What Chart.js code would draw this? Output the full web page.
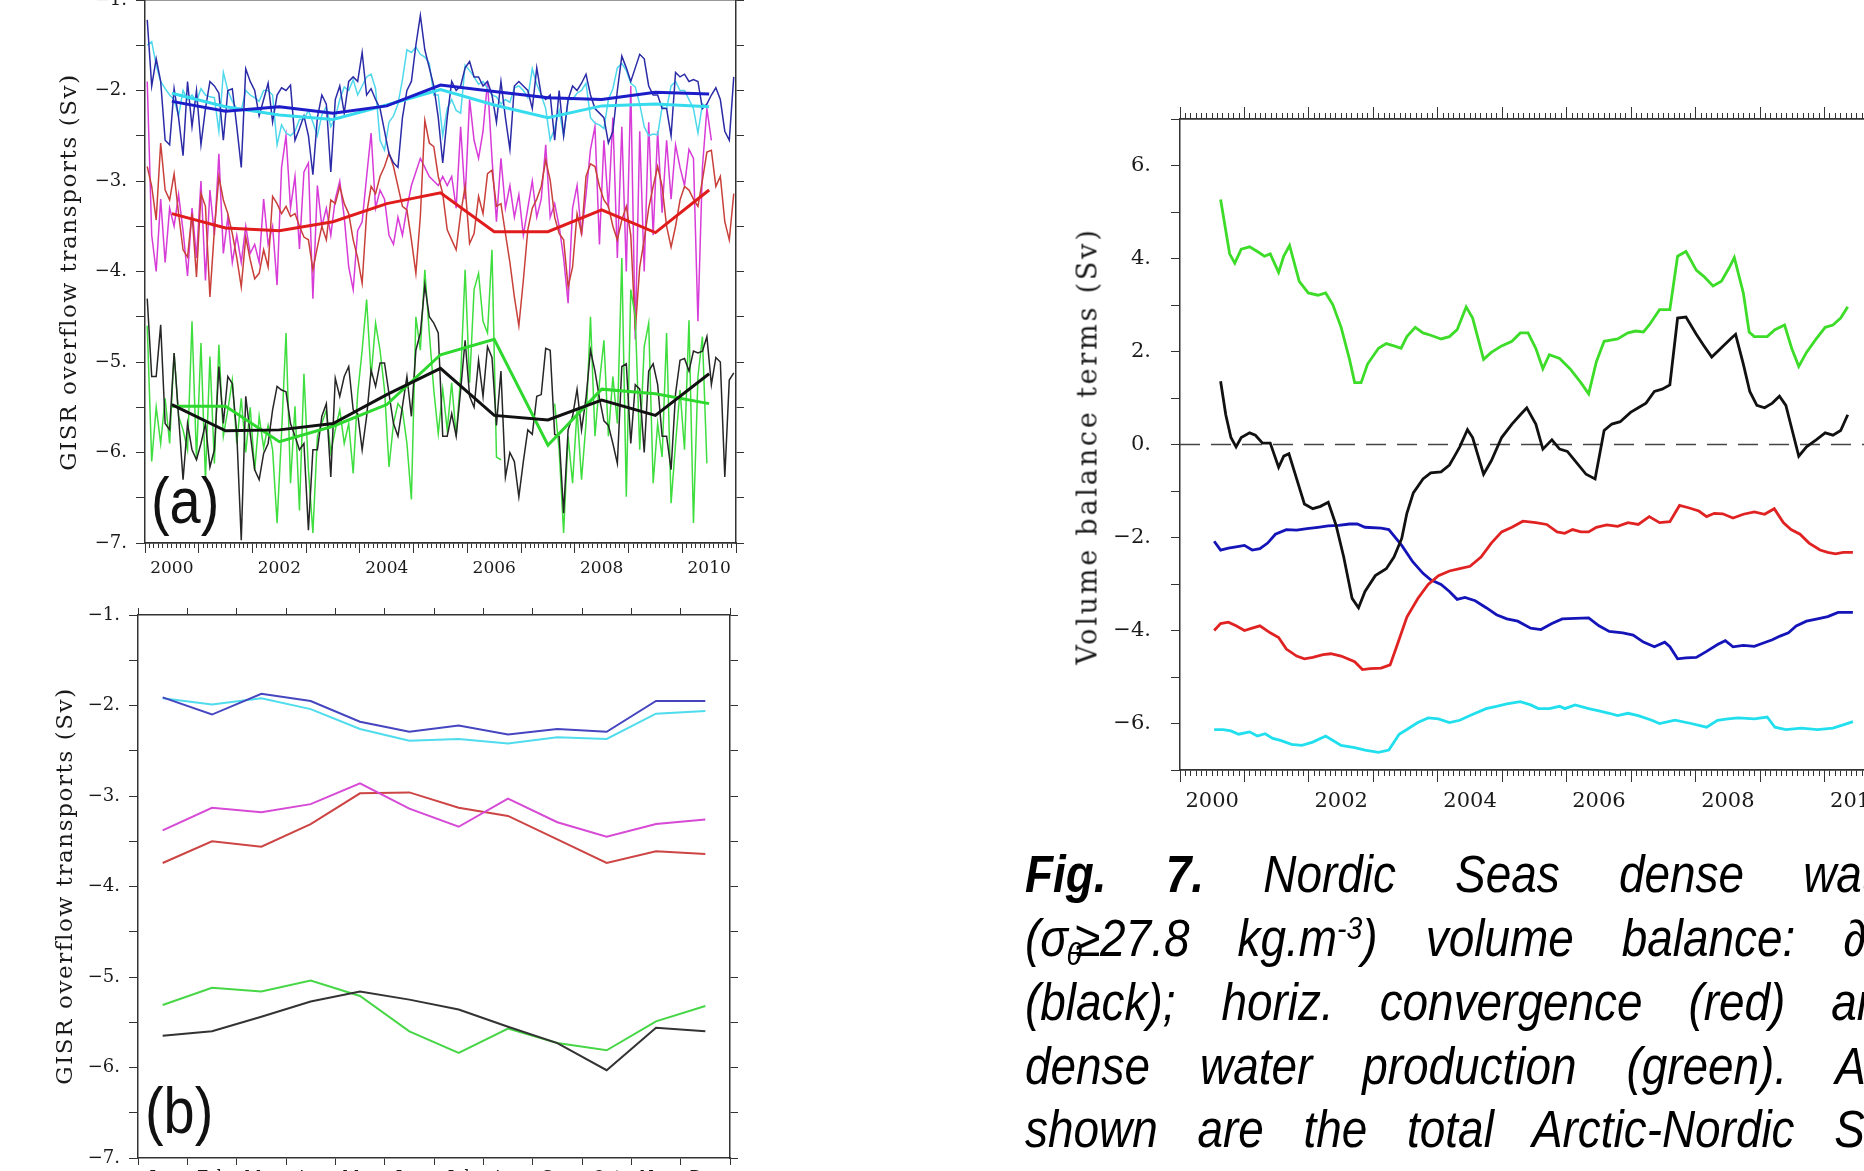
<!DOCTYPE html>
<html>
<head>
<meta charset="utf-8">
<script src="https://cdn.jsdelivr.net/npm/chart.js@4.4.1/dist/chart.umd.min.js"></script>
<style>
  html, body { margin: 0; padding: 0; background: #fff; }
  body { width: 1864px; height: 1171px; overflow: hidden; position: relative; }
  canvas { position: absolute; }
  .ytitle { position: absolute; font-family: 'DejaVu Serif', serif; color: #1a1a1a; white-space: nowrap;
            transform: translate(-50%, -50%) rotate(-90deg); }
  .tag { position: absolute; font-family: 'Liberation Sans', Arial, sans-serif; font-size: 65px; line-height: 65px;
         color: #111; transform: scaleX(0.86); transform-origin: 0 0; }
  .cap { position: absolute; left: 1025px; font-family: 'Liberation Sans', Arial, sans-serif;
         font-style: italic; font-size: 51px; line-height: 51px; color: #000; white-space: pre;
         transform: scaleX(0.9); transform-origin: 0 0; }
  .cap b { font-weight: bold; }
  .sub { font-size: 62%; position: relative; top: 0.3em; margin-left: -0.05em; margin-right: -0.25em; }
  .sup { font-size: 62%; position: relative; top: -0.55em; }
</style>
</head>
<body>
<canvas id="chartA" width="790" height="630" style="left:0;top:-30px"></canvas>
<canvas id="chartB" width="790" height="620" style="left:0;top:585px"></canvas>
<canvas id="chartC" width="900" height="790" style="left:1040px;top:60px"></canvas>

<div class="ytitle" style="left:68px;top:272px;font-size:23px;letter-spacing:1.6px">GISR overflow transports (Sv)</div>
<div class="ytitle" style="left:64px;top:886px;font-size:23px;letter-spacing:1.6px">GISR overflow transports (Sv)</div>
<div class="ytitle" style="left:1087px;top:446px;font-size:27px;letter-spacing:2.8px">Volume balance terms (Sv)</div>
<div class="tag" style="left:151px;top:468px">(a)</div>
<div class="tag" style="left:145px;top:1078px">(b)</div>

<div class="cap" style="top:849px;word-spacing:51.6px"><b>Fig. 7.</b> Nordic Seas dense water</div>
<div class="cap" style="top:913px;word-spacing:39.3px">(σ<span class="sub">θ</span>≥27.8 kg.m<span class="sup">-3</span>) volume balance: ∂V/∂t</div>
<div class="cap" style="top:977px;word-spacing:36.9px">(black); horiz. convergence (red) and</div>
<div class="cap" style="top:1041px;word-spacing:41.3px">dense water production (green). Also</div>
<div class="cap" style="top:1104px;word-spacing:30px">shown are the total Arctic-Nordic Seas</div>

<script>
// ---------- panel (a): monthly GISR overflow transports, Jan 2000 - Dec 2010 ----------
const blueA = [-1.22,-1.95,-1.65,-1.9,-2.55,-2.6,-1.98,-2.3,-2.72,-1.9,-2.4,-2.0,
  -2.6,-2.2,-1.9,-1.95,-2.03,-2.55,-2.0,-1.98,-2.4,-2.85,-1.76,-1.9,
  -2.0,-2.28,-2.1,-1.92,-2.35,-2.05,-1.97,-2.0,-1.94,-2.55,-2.42,-2.28,
  -2.5,-2.93,-2.3,-2.05,-2.15,-2.9,-2.1,-1.95,-2.25,-1.9,-1.85,-1.9,
  -1.58,-2.05,-1.98,-2.1,-2.2,-2.45,-2.7,-2.8,-2.85,-2.3,-2.0,-1.9,
  -1.5,-1.17,-1.55,-1.75,-1.95,-2.3,-2.8,-2.3,-1.9,-2.0,-1.95,-1.75,
  -1.68,-1.85,-1.85,-1.95,-1.9,-2.05,-2.35,-1.9,-2.3,-2.65,-1.95,-1.9,
  -1.95,-2.0,-2.2,-1.75,-2.05,-2.1,-2.05,-2.55,-2.0,-2.5,-2.1,-1.95,
  -2.0,-1.92,-1.82,-2.05,-2.2,-2.25,-2.3,-2.58,-2.45,-2.0,-1.62,-1.75,
  -1.9,-1.75,-1.6,-1.65,-1.95,-2.05,-2.05,-2.2,-2.2,-2.5,-1.8,-1.85,
  -1.82,-1.9,-1.88,-1.9,-2.2,-2.15,-2.05,-1.97,-2.1,-2.45,-2.55,-1.85];
const cyanA = [-1.5,-1.46,-1.72,-1.9,-1.98,-2.05,-2.1,-2.28,-2.0,-2.1,-2.05,-2.12,
  -1.98,-2.05,-2.07,-2.08,-2.45,-1.8,-2.0,-2.12,-2.2,-2.22,-2.0,-2.05,
  -2.08,-2.12,-2.0,-2.0,-2.05,-2.6,-2.38,-2.47,-2.5,-2.45,-2.32,-2.32,
  -2.22,-2.35,-2.5,-2.27,-2.18,-2.4,-2.3,-2.1,-1.96,-2.0,-1.88,-2.05,
  -1.95,-1.85,-1.82,-1.98,-2.55,-2.66,-2.35,-2.28,-2.15,-1.88,-1.55,-1.58,
  -1.52,-1.6,-1.63,-1.7,-2.05,-2.05,-2.5,-2.2,-2.1,-2.22,-2.25,-1.72,
  -1.78,-1.85,-1.93,-1.9,-1.98,-2.05,-2.07,-2.15,-2.1,-2.13,-1.97,-1.95,
  -2.0,-2.08,-1.76,-1.93,-2.05,-2.2,-2.55,-2.42,-2.22,-2.5,-2.1,-2.1,
  -2.03,-2.0,-1.92,-2.3,-2.36,-2.38,-2.42,-2.1,-1.98,-1.75,-1.7,-1.78,
  -1.92,-1.96,-2.15,-2.4,-2.5,-2.48,-2.49,-2.18,-2.2,-1.95,-1.9,-2.0,
  -2.0,-2.1,-2.2,-2.47,-2.15,-2.18,null,null,null,null,null,null];
const magentaA = [-1.9,-3.6,-4.0,-3.2,-3.9,-3.3,-3.5,-3.15,-3.55,-4.05,-3.3,-3.85,
  -3.0,-4.1,-3.1,-3.6,-2.7,-3.8,-3.4,-3.9,-3.6,-3.9,-3.5,-3.8,
  -3.7,-3.9,-3.2,-3.7,-3.5,-4.15,-2.85,-2.5,-3.3,-2.95,-3.75,-2.9,
  -2.8,-4.3,-3.05,-3.5,-3.3,-3.6,-3.2,-3.0,-3.4,-3.95,-4.2,-3.55,
  -3.45,-2.95,-2.47,-3.3,-3.1,-3.2,-3.6,-3.7,-3.4,-3.6,-3.3,-3.05,
  -2.9,-2.75,-2.85,-2.95,-3.0,-3.05,-2.95,-3.05,-2.95,-3.3,-2.4,-3.2,
  -2.1,-2.55,-2.75,-2.45,-1.9,-2.75,-3.45,-2.75,-3.3,-3.05,-3.4,-3.15,
  -3.6,-3.3,-3.0,-3.4,-3.2,-2.6,-3.4,-3.25,-3.5,-3.85,-4.35,-3.3,
  -3.05,-3.6,-3.15,-2.65,-2.4,-3.7,-2.55,-3.3,-2.3,-3.85,-2.4,-4.0,
  -1.95,-4.75,-2.45,-4.0,-2.35,-3.6,-2.45,-3.35,-2.55,-3.2,-2.6,-2.85,
  -3.05,-2.65,-2.75,-4.55,-2.85,-2.2,-2.55,null,null,null,null,null];
const redA = [-2.84,-3.06,-3.43,-2.58,-3.1,-3.21,-2.92,-3.36,-3.76,-3.84,-3.36,-4.06,
  -3.14,-3.28,-4.28,-3.54,-2.95,-3.21,-3.36,-3.58,-3.85,-4.17,-3.62,-3.87,
  -4.08,-4.02,-3.76,-3.95,-3.17,-3.25,-3.36,-3.28,-3.39,-3.36,-3.5,-3.62,
  -3.65,-3.98,-3.73,-3.5,-3.65,-3.21,-3.25,-3.06,-3.25,-3.36,-3.65,-3.85,
  -4.13,-3.36,-3.06,-3.14,-2.95,-2.84,-2.69,-2.84,-3.06,-3.28,-3.32,-3.65,
  -4.02,-3.39,-2.33,-2.58,-2.62,-2.95,-3.14,-3.54,-3.65,-3.76,-3.36,-3.06,
  -3.69,-3.58,-3.17,-3.36,-2.92,-2.88,-3.28,-3.25,-3.58,-3.9,-4.28,-4.6,
  -4.1,-3.54,-3.3,-3.2,-3.06,-2.77,-2.99,-3.4,-3.58,-3.65,-4.17,-3.95,
  -3.36,-3.58,-2.95,-2.81,-2.84,-3.06,-3.21,-3.28,-3.5,-3.65,-3.43,-3.28,
  -3.6,-4.65,-3.95,-3.65,-3.3,-3.06,-2.84,-3.06,-3.5,-3.73,-3.5,-3.21,
  -3.06,-3.1,-3.2,-3.28,-2.99,-2.68,-2.66,-3.06,-2.95,-3.45,-3.65,-3.14];
const greenA = [-4.6,-6.1,-5.5,-5.9,-5.4,-5.9,-4.9,-5.6,-5.75,-5.97,-4.55,-6.08,
  -4.79,-6.3,-4.94,-6.12,-4.81,-5.82,-5.53,-5.2,-5.9,-5.4,-6.0,-5.5,
  -6.2,-5.6,-5.95,-5.7,-5.97,-6.78,-5.79,-4.68,-6.34,-5.49,-6.64,-5.13,
  -6.19,-6.89,-5.82,-5.68,-5.53,-6.0,-5.75,-5.53,-5.9,-5.68,-6.23,-5.35,
  -4.87,-4.31,-5.16,-4.57,-4.87,-5.31,-6.16,-5.68,-5.46,-5.53,-5.9,-6.52,
  -4.5,-4.87,-3.98,-4.68,-5.31,-5.79,-5.3,-5.75,-5.23,-5.82,-5.16,-3.98,
  -5.23,-4.2,-4.02,-4.55,-4.68,-3.76,-6.05,-6.08,null,null,null,null,
  null,null,null,null,null,null,null,-5.46,-5.97,-6.89,-5.82,-6.34,
  -5.53,-6.3,-5.68,-4.5,-5.82,-5.23,-4.76,-5.82,-5.16,-5.68,-3.85,-6.49,
  -4.2,-4.5,-5.97,-4.83,-4.57,-6.34,-5.68,-6.05,-4.68,-6.56,-5.9,-5.31,
  -5.97,-4.54,-6.78,-5.16,-4.72,-6.12,null,null,null,null,null,null];
const blackA = [-4.3,-5.16,-5.16,-4.59,-5.68,-5.75,-4.9,-5.6,-6.3,-5.68,-5.97,-6.08,
  -5.9,-5.68,-6.16,-5.97,-5.05,-5.68,-5.16,-5.24,-5.79,-6.97,-5.38,-5.79,
  -6.19,-6.3,-6.01,-5.9,-5.53,-5.27,-5.31,-5.33,-5.68,-5.82,-5.97,-5.9,
  -6.86,-5.97,-5.97,-5.6,-5.46,-6.27,-5.18,-5.38,-5.16,-5.05,-5.53,-5.57,
  -5.97,-5.6,-5.09,-5.27,-5.01,-5.01,-5.35,-5.68,-5.82,-5.49,-5.16,-5.6,
  -4.87,-4.68,-4.15,-4.5,-4.57,-4.68,-5.82,-5.82,-5.57,-5.82,-5.31,-4.76,
  -5.38,-5.5,-4.98,-5.38,-4.83,-4.95,-5.7,-5.1,-6.27,-6.0,-6.1,-6.49,
  -6.1,-5.75,-5.8,-5.38,-5.36,-4.85,-4.87,-5.8,-5.82,-6.67,-5.75,-5.6,
  -5.3,-5.75,-5.4,-4.87,-5.1,-5.4,-5.65,-5.7,-5.9,-6.12,-5.05,-5.02,
  -5.9,-5.25,-5.3,-6.0,-5.1,-5.02,-5.25,-5.82,-5.82,-6.19,-5.35,-4.98,
  -4.96,-5.1,-4.88,-4.9,-4.88,-4.72,-5.25,-4.95,-5.0,-6.27,-5.2,-5.12];

// annual means, plotted at mid-year
const yearMid = [2000.5,2001.5,2002.5,2003.5,2004.5,2005.5,2006.5,2007.5,2008.5,2009.5,2010.5];
const blueMean = [-2.12,-2.23,-2.18,-2.25,-2.17,-1.94,-2.01,-2.08,-2.10,-2.02,-2.04];
const cyanMean = [-2.03,-2.18,-2.27,-2.32,-2.16,-1.99,-2.16,-2.30,-2.17,-2.15,-2.18];
const redMean = [-3.36,-3.52,-3.55,-3.45,-3.25,-3.13,-3.56,-3.56,-3.32,-3.57,-3.10];
const greenMean = [-5.49,-5.49,-5.88,-5.71,-5.47,-4.92,-4.75,-5.92,-5.30,-5.35,-5.46];
const blackMean = [-5.47,-5.76,-5.75,-5.68,-5.36,-5.07,-5.59,-5.64,-5.42,-5.59,-5.13];

// ---------- panel (b): mean seasonal cycle ----------
const monthNames = ['Jan','Feb','Mar','Apr','May','Jun','Jul','Aug','Sep','Oct','Nov','Dec'];
const blueB = [-1.91,-2.10,-1.87,-1.95,-2.18,-2.29,-2.22,-2.32,-2.26,-2.29,-1.95,-1.95];
const cyanB = [-1.92,-1.99,-1.92,-2.04,-2.26,-2.39,-2.37,-2.42,-2.35,-2.37,-2.09,-2.06];
const magentaB = [-3.38,-3.13,-3.18,-3.09,-2.86,-3.14,-3.34,-3.03,-3.29,-3.45,-3.31,-3.26];
const redB = [-3.74,-3.50,-3.56,-3.31,-2.97,-2.96,-3.13,-3.22,-3.48,-3.74,-3.61,-3.64];
const greenB = [-5.31,-5.12,-5.16,-5.04,-5.21,-5.60,-5.84,-5.57,-5.73,-5.81,-5.49,-5.32];
const blackB = [-5.65,-5.60,-5.44,-5.27,-5.16,-5.25,-5.36,-5.55,-5.73,-6.03,-5.56,-5.60];

// ---------- right panel: Nordic Seas dense water volume balance ----------
const greenT = [2000.63,2000.77,2000.85,2000.95,2001.08,2001.2,2001.31,2001.4,2001.53,2001.61,2001.7,2001.85,2001.99,
  2002.14,2002.26,2002.37,2002.5,2002.63,2002.71,2002.81,2002.91,2003.08,2003.2,2003.32,2003.43,2003.52,2003.65,2003.77,2003.89,
  2004.05,2004.18,2004.3,2004.44,2004.54,2004.71,2004.83,2004.99,2005.15,2005.28,2005.4,2005.52,2005.63,2005.73,2005.89,
  2006.05,2006.22,2006.34,2006.46,2006.58,2006.79,2006.95,2007.07,2007.19,2007.28,2007.44,2007.6,2007.72,2007.85,
  2008.01,2008.13,2008.27,2008.4,2008.52,2008.6,2008.74,2008.83,2008.91,2009.11,2009.23,2009.38,2009.49,2009.6,2009.72,2009.87,
  2010.01,2010.13,2010.25,2010.36];
const greenV = [5.27,4.1,3.9,4.2,4.25,4.15,4.05,4.1,3.7,4.05,4.28,3.51,3.26,
  3.21,3.26,3.01,2.52,1.83,1.33,1.33,1.73,2.07,2.17,2.12,2.07,2.32,2.52,2.4,2.35,
  2.27,2.32,2.47,2.96,2.72,1.83,1.98,2.12,2.22,2.4,2.4,2.07,1.63,1.93,1.85,
  1.63,1.33,1.09,1.78,2.22,2.27,2.4,2.44,2.42,2.57,2.9,2.9,4.05,4.15,
  3.75,3.61,3.41,3.51,3.8,4.02,3.26,2.42,2.32,2.32,2.47,2.57,2.07,1.68,1.98,2.27,
  2.52,2.57,2.72,2.96];
const blackT = [2000.63,2000.71,2000.79,2000.87,2000.95,2001.08,2001.17,2001.28,2001.4,2001.53,2001.61,2001.69,2001.81,2001.93,
  2002.06,2002.18,2002.3,2002.42,2002.54,2002.67,2002.77,2002.87,2003.03,2003.2,2003.32,2003.44,2003.52,2003.62,2003.77,2003.89,
  2004.05,2004.18,2004.26,2004.34,2004.46,2004.54,2004.71,2004.83,2004.99,2005.15,2005.28,2005.38,2005.52,2005.63,2005.77,2005.89,
  2006.01,2006.13,2006.3,2006.44,2006.58,2006.7,2006.83,2006.99,2007.11,2007.23,2007.36,2007.48,2007.6,2007.72,2007.85,
  2008.01,2008.13,2008.25,2008.4,2008.54,2008.62,2008.74,2008.84,2008.95,2009.07,2009.19,2009.3,2009.4,2009.49,2009.6,2009.72,2009.87,
  2010.01,2010.13,2010.25,2010.36];
const blackV = [1.36,0.64,0.15,-0.05,0.15,0.25,0.2,0.03,0.03,-0.49,-0.25,-0.2,-0.74,-1.28,
  -1.38,-1.33,-1.24,-1.73,-2.42,-3.31,-3.51,-3.16,-2.82,-2.67,-2.42,-2.02,-1.48,-1.04,-0.74,-0.61,
  -0.59,-0.44,-0.25,-0.05,0.32,0.15,-0.64,-0.35,0.15,0.44,0.64,0.79,0.44,-0.1,0.1,-0.1,
  -0.15,-0.35,-0.64,-0.74,0.3,0.44,0.49,0.69,0.79,0.89,1.14,1.19,1.28,2.72,2.74,
  2.37,2.12,1.88,2.08,2.27,2.37,1.73,1.14,0.84,0.79,0.89,1.04,0.84,0.35,-0.25,-0.05,0.1,
  0.25,0.2,0.3,0.64];
const blueT = [2000.53,2000.63,2000.75,2000.87,2001.0,2001.12,2001.24,2001.36,2001.48,2001.65,2001.81,2001.97,
  2002.14,2002.3,2002.46,2002.63,2002.75,2002.87,2003.12,2003.24,2003.44,2003.61,2003.77,2003.89,
  2004.05,2004.18,2004.3,2004.42,2004.58,2004.75,2004.91,2005.07,2005.24,2005.44,2005.6,2005.77,2005.93,
  2006.13,2006.34,2006.5,2006.66,2006.87,2007.03,2007.19,2007.36,2007.52,2007.6,2007.72,2007.85,
  2008.01,2008.17,2008.34,2008.46,2008.58,2008.74,2008.91,2009.03,2009.19,2009.31,2009.44,2009.56,2009.72,2009.89,
  2010.05,2010.21,2010.44];
const blueV = [-2.08,-2.27,-2.23,-2.2,-2.17,-2.27,-2.24,-2.12,-1.93,-1.83,-1.84,-1.81,
  -1.78,-1.75,-1.74,-1.71,-1.71,-1.78,-1.8,-1.83,-2.17,-2.52,-2.77,-2.91,
  -3.01,-3.16,-3.33,-3.29,-3.36,-3.51,-3.66,-3.75,-3.8,-3.95,-3.98,-3.85,-3.75,
  -3.74,-3.73,-3.9,-4.02,-4.05,-4.1,-4.25,-4.35,-4.25,-4.35,-4.61,-4.59,
  -4.58,-4.45,-4.3,-4.22,-4.35,-4.32,-4.34,-4.28,-4.2,-4.12,-4.05,-3.9,-3.8,-3.75,
  -3.7,-3.61,-3.61];
const redT = [2000.53,2000.63,2000.75,2000.87,2001.0,2001.12,2001.24,2001.4,2001.53,2001.65,2001.81,2001.93,
  2002.06,2002.22,2002.34,2002.5,2002.71,2002.83,2002.95,2003.12,2003.26,2003.36,2003.52,2003.69,2003.85,
  2004.01,2004.18,2004.34,2004.5,2004.67,2004.83,2004.99,2005.15,2005.32,2005.52,2005.69,2005.85,2005.97,
  2006.09,2006.22,2006.34,2006.46,2006.62,2006.79,2006.95,2007.11,2007.28,2007.44,2007.6,2007.75,2007.89,
  2008.05,2008.17,2008.29,2008.42,2008.58,2008.74,2008.91,2009.07,2009.22,2009.36,2009.48,2009.62,2009.76,2009.93,
  2010.05,2010.17,2010.29,2010.44];
const redV = [-4.0,-3.85,-3.82,-3.9,-4.0,-3.95,-3.9,-4.05,-4.15,-4.4,-4.55,-4.61,
  -4.58,-4.52,-4.5,-4.55,-4.67,-4.84,-4.82,-4.81,-4.74,-4.35,-3.71,-3.31,-3.01,
  -2.82,-2.72,-2.67,-2.62,-2.42,-2.12,-1.88,-1.78,-1.65,-1.68,-1.72,-1.88,-1.91,
  -1.83,-1.88,-1.88,-1.78,-1.73,-1.76,-1.68,-1.72,-1.55,-1.68,-1.66,-1.31,-1.36,
  -1.43,-1.55,-1.48,-1.49,-1.58,-1.5,-1.45,-1.5,-1.38,-1.68,-1.83,-1.93,-2.12,-2.27,
  -2.32,-2.35,-2.32,-2.32];
const cyanT = [2000.53,2000.67,2000.79,2000.91,2001.08,2001.2,2001.32,2001.44,2001.57,2001.73,2001.89,
  2002.06,2002.26,2002.38,2002.5,2002.71,2002.87,2003.08,2003.24,2003.4,2003.52,2003.69,2003.85,
  2004.01,2004.18,2004.34,2004.5,2004.75,2004.91,2005.07,2005.28,2005.44,2005.56,2005.73,2005.89,2005.97,
  2006.13,2006.34,2006.5,2006.66,2006.79,2006.95,2007.11,2007.32,2007.44,2007.68,2007.93,
  2008.17,2008.34,2008.5,2008.66,2008.91,2009.11,2009.23,2009.4,2009.64,2009.89,2010.13,2010.29,2010.44];
const cyanV = [-6.13,-6.13,-6.16,-6.23,-6.18,-6.27,-6.22,-6.32,-6.37,-6.45,-6.47,
  -6.4,-6.27,-6.37,-6.47,-6.52,-6.57,-6.62,-6.57,-6.23,-6.13,-5.98,-5.88,
  -5.9,-5.98,-5.93,-5.83,-5.68,-5.63,-5.58,-5.53,-5.6,-5.68,-5.68,-5.63,-5.68,
  -5.6,-5.68,-5.73,-5.78,-5.83,-5.78,-5.83,-5.93,-6.0,-5.93,-6.0,
  -6.08,-5.93,-5.9,-5.88,-5.9,-5.86,-6.08,-6.13,-6.1,-6.13,-6.1,-6.03,-5.96];
const zeroT = [2000, 2011];
const zeroV = [0, 0];

// ---------- axis ticks ----------
const monthTicks = Array.from({ length: 133 }, (_, k) => 2000 + k / 12);
const yearTicks = [2000,2001,2002,2003,2004,2005,2006,2007,2008,2009,2010,2011];
const yearLabels = [2000.5,2002.5,2004.5,2006.5,2008.5,2010.5];
const monthTimes = blueA.map((_, m) => 2000 + (m + 0.5) / 12);

const serif = 'DejaVu Serif';
const ink = '#333';

const pts = (xs, ys) => xs.map((x, i) => ({ x: x, y: ys[i] }));
const line = (data, color, width) => ({
  data: data, borderColor: color, borderWidth: width, pointRadius: 0,
  fill: false, tension: 0, spanGaps: false
});
const numLabel = v => {
  const r = Math.round(v);
  return (r < 0 ? '\u2212' + (-r) : String(r)) + '.';
};

function tickAxis(position, values, len) {
  return {
    type: 'linear', position: position, min: 2000, max: 2011, weight: 0,
    afterBuildTicks: s => { s.ticks = values.map(v => ({ value: v })); },
    afterFit: s => { s.height = 0; },
    ticks: { display: false },
    grid: { drawOnChartArea: false, tickLength: len, tickColor: ink, tickWidth: 1 },
    border: { color: ink, width: 1.5 }
  };
}
function yearLabelAxis(height, size, pad) {
  return {
    type: 'linear', position: 'bottom', min: 2000, max: 2011, weight: 1,
    afterBuildTicks: s => { s.ticks = yearLabels.map(v => ({ value: v })); },
    afterFit: s => { s.height = height; },
    ticks: { autoSkip: false, maxRotation: 0, padding: pad, color: '#1a1a1a',
             font: { family: serif, size: size }, callback: v => String(Math.floor(v)) },
    grid: { display: false, drawTicks: false },
    border: { display: false }
  };
}
function sideAxis(position, min, max, step, width, opts) {
  return Object.assign({
    type: 'linear', position: position, min: min, max: max,
    afterFit: s => { s.width = width; },
    ticks: { stepSize: step, display: false },
    grid: { drawOnChartArea: false, tickLength: 8, tickColor: ink, tickWidth: 1 },
    border: { color: ink, width: 1.5 }
  }, opts || {});
}
const baseOptions = {
  responsive: false, animation: false, devicePixelRatio: 1, events: [],
  plugins: { legend: { display: false }, tooltip: { enabled: false } }
};
const sixthLabels = (size, pad) => ({
  stepSize: 0.5, autoSkip: false, padding: pad, color: '#1a1a1a', font: { family: serif, size: size },
  callback: v => Math.abs(v - Math.round(v)) < 1e-6 ? numLabel(v) : ''
});

// panel (a)
new Chart(document.getElementById('chartA'), {
  type: 'line',
  data: {
    datasets: [
      line(pts(yearMid, blackMean), '#111111', 3),
      line(pts(yearMid, greenMean), '#2ed82e', 3),
      line(pts(yearMid, redMean), '#e01c1c', 3),
      line(pts(yearMid, blueMean), '#1c1cc8', 3),
      line(pts(yearMid, cyanMean), '#36dcee', 3),
      line(pts(monthTimes, blackA), '#262626', 1.5),
      line(pts(monthTimes, greenA), '#3ede3e', 1.5),
      line(pts(monthTimes, blueA), '#2b2ba8', 1.5),
      line(pts(monthTimes, cyanA), '#4fd8ec', 1.5),
      line(pts(monthTimes, redA), '#c9403a', 1.5),
      line(pts(monthTimes, magentaA), '#d83cd8', 1.5)
    ]
  },
  options: Object.assign({}, baseOptions, {
    layout: { padding: { top: 30, left: 0, right: 0, bottom: 0 } },
    scales: {
      xm: tickAxis('bottom', monthTicks, 5),
      xM: tickAxis('bottom', yearTicks, 10),
      xt: tickAxis('top', [], 0),
      x: yearLabelAxis(57, 17, 15),
      y: sideAxis('left', -7, -1, 0.5, 145, {
        ticks: sixthLabels(18, 9),
        grid: { drawOnChartArea: false, tickLength: 9, tickColor: ink, tickWidth: 1 }
      }),
      yR: sideAxis('right', -7, -1, 0.5, 54)
    }
  })
});

// panel (b)
const monthAxis = (position, height, showLabels) => ({
  type: 'category', position: position, offset: true, weight: position === 'bottom' ? 1 : 0,
  afterFit: s => { s.height = height; },
  ticks: { display: showLabels, autoSkip: false, maxRotation: 0, padding: 3, color: '#1a1a1a',
           font: { family: serif, size: 16 } },
  grid: { offset: true, drawOnChartArea: false, tickLength: 7, tickColor: ink, tickWidth: 1 },
  border: { color: ink, width: 1.5 }
});
new Chart(document.getElementById('chartB'), {
  type: 'line',
  data: {
    labels: monthNames,
    datasets: [
      line(blueB, '#4545c0', 2),
      line(cyanB, '#4fdcec', 2),
      line(blackB, '#333333', 2),
      line(greenB, '#46d646', 2),
      line(magentaB, '#d64ad6', 2),
      line(redB, '#cc4444', 2)
    ]
  },
  options: Object.assign({}, baseOptions, {
    layout: { padding: { top: 30, left: 0, right: 0, bottom: 0 } },
    scales: {
      x: monthAxis('bottom', 47, true),
      xt: monthAxis('top', 0, false),
      y: sideAxis('left', -7, -1, 0.5, 138, {
        ticks: sixthLabels(18, 9),
        grid: { drawOnChartArea: false, tickLength: 9, tickColor: ink, tickWidth: 1 }
      }),
      yR: sideAxis('right', -7, -1, 0.5, 60)
    }
  })
});

// right panel
const zeroLine = line(pts(zeroT, zeroV), '#444444', 1.6);
zeroLine.borderDash = [20, 11];
new Chart(document.getElementById('chartC'), {
  type: 'line',
  data: {
    datasets: [
      line(pts(greenT, greenV), '#3cdc28', 2.8),
      line(pts(blackT, blackV), '#111111', 2.8),
      line(pts(redT, redV), '#e02222', 2.8),
      line(pts(blueT, blueV), '#1414b8', 2.8),
      line(pts(cyanT, cyanV), '#22dfee', 2.8),
      zeroLine
    ]
  },
  options: Object.assign({}, baseOptions, {
    layout: { padding: { top: 59, left: 0, right: 51, bottom: 0 } },
    scales: {
      xm: tickAxis('bottom', monthTicks, 6),
      xM: tickAxis('bottom', yearTicks, 12),
      xtm: tickAxis('top', monthTicks, 6),
      xtM: tickAxis('top', yearTicks, 12),
      x: yearLabelAxis(80, 21, 19),
      y: sideAxis('left', -7, 7, 1, 140, {
        ticks: { stepSize: 1, autoSkip: false, padding: 20, color: '#1a1a1a', font: { family: serif, size: 21 },
                 callback: v => Math.round(v) % 2 === 0 ? numLabel(v) : '' },
        grid: { drawOnChartArea: false, tickLength: 9, tickColor: ink, tickWidth: 1 }
      })
    }
  })
});
</script>
</body>
</html>
